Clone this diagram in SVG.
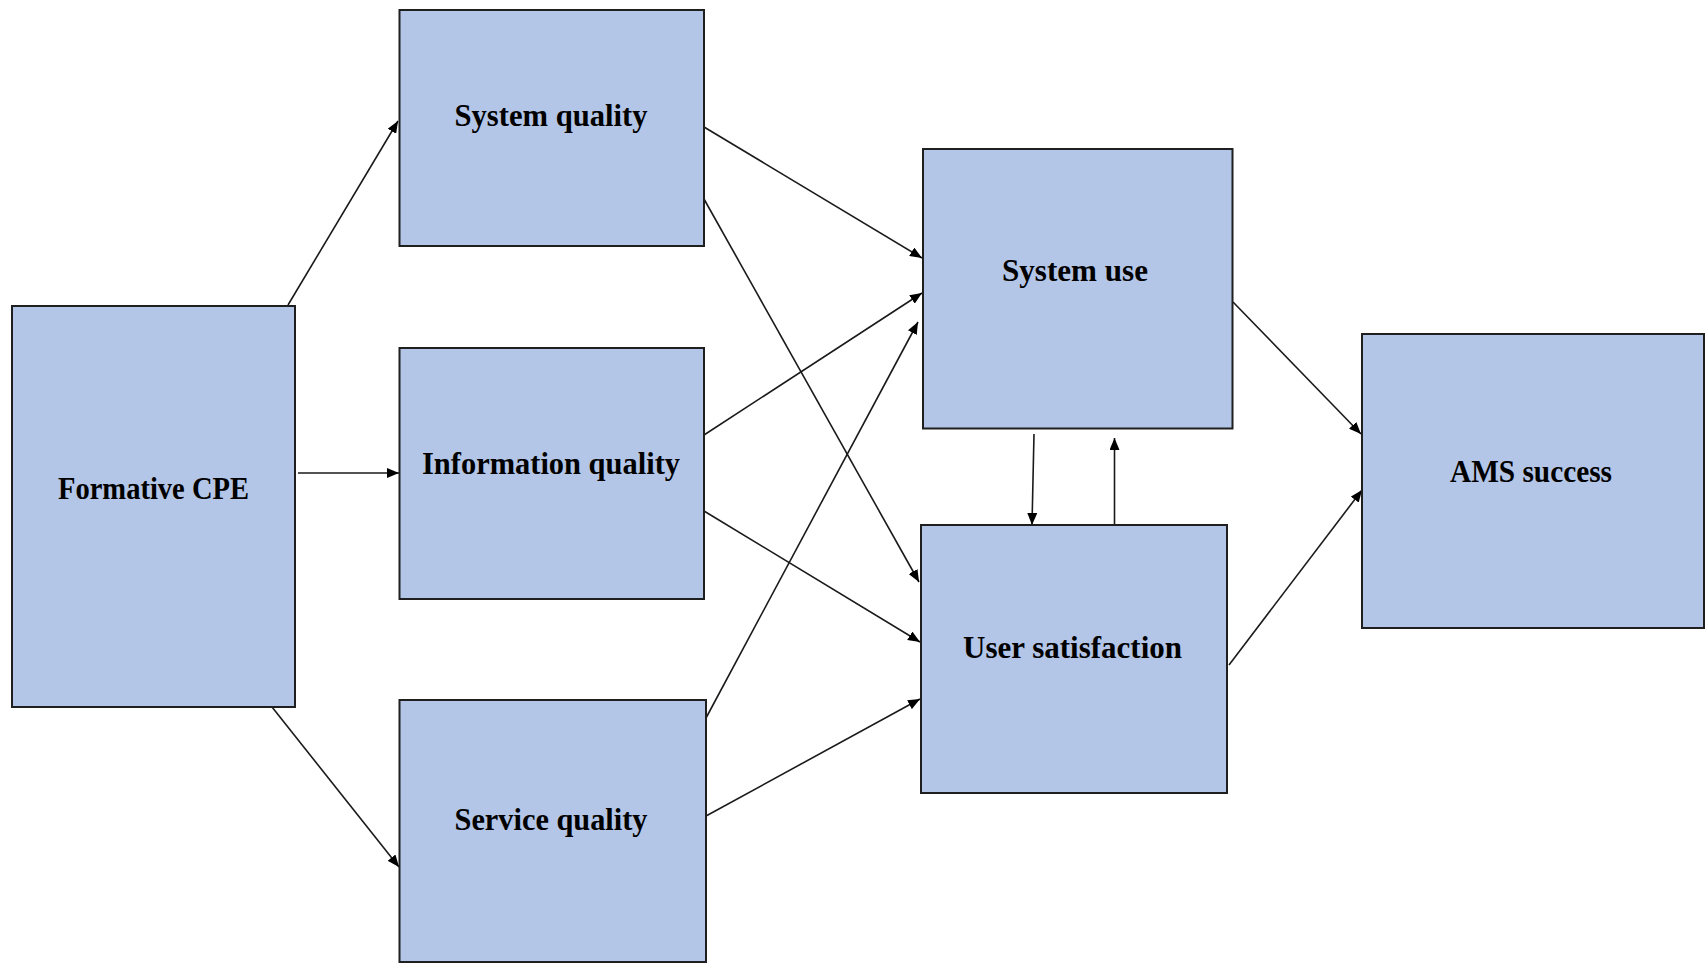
<svg xmlns="http://www.w3.org/2000/svg" width="1705" height="963" viewBox="0 0 1705 963">
<style>
.box{fill:#B4C6E7;stroke:#1f1f1f;stroke-width:2}
.lbl{font-family:"Liberation Serif","Times New Roman",serif;font-weight:bold;font-size:31px;fill:#000;text-anchor:middle}
.c{stroke:#1a1a1a;stroke-width:1.6;fill:none;marker-end:url(#ah)}
</style>
<defs>
<marker id="ah" markerUnits="userSpaceOnUse" markerWidth="12" markerHeight="10" refX="12" refY="5" orient="auto">
<path d="M0,0 L12,5 L0,10 z" fill="#000"/>
</marker>
</defs>
<rect width="1705" height="963" fill="#fff"/>
<g id="connectors">
<line class="c" x1="288" y1="305" x2="398" y2="121"/>
<line class="c" x1="298" y1="473" x2="399" y2="473"/>
<line class="c" x1="272" y1="707" x2="399" y2="867"/>
<line class="c" x1="704" y1="127" x2="922" y2="258"/>
<line class="c" x1="704" y1="199" x2="919" y2="582"/>
<line class="c" x1="704" y1="435" x2="922" y2="293"/>
<line class="c" x1="704" y1="511" x2="920" y2="642"/>
<line class="c" x1="706" y1="718" x2="918" y2="322"/>
<line class="c" x1="706" y1="816" x2="920" y2="699"/>
<line class="c" x1="1034" y1="434" x2="1032" y2="525"/>
<line class="c" x1="1114.5" y1="525" x2="1114.5" y2="438"/>
<line class="c" x1="1233" y1="302" x2="1361" y2="434"/>
<line class="c" x1="1229" y1="665" x2="1362" y2="490"/>
</g>
<g id="formative-cpe">
<rect class="box" x="12" y="306" width="283" height="401"/>
<text class="lbl" x="153.5" y="499" textLength="191" lengthAdjust="spacingAndGlyphs">Formative CPE</text>
</g>
<g id="system-quality">
<rect class="box" x="399.5" y="10" width="304.5" height="236"/>
<text class="lbl" x="551" y="126" textLength="193" lengthAdjust="spacingAndGlyphs">System quality</text>
</g>
<g id="information-quality">
<rect class="box" x="399.5" y="348" width="304.5" height="251"/>
<text class="lbl" x="551" y="474" textLength="258" lengthAdjust="spacingAndGlyphs">Information quality</text>
</g>
<g id="service-quality">
<rect class="box" x="399.5" y="700" width="306.5" height="262"/>
<text class="lbl" x="551" y="830" textLength="193" lengthAdjust="spacingAndGlyphs">Service quality</text>
</g>
<g id="system-use">
<rect class="box" x="923" y="149" width="309.5" height="279.5"/>
<text class="lbl" x="1075" y="281" textLength="146" lengthAdjust="spacingAndGlyphs">System use</text>
</g>
<g id="user-satisfaction">
<rect class="box" x="921" y="525" width="306" height="268"/>
<text class="lbl" x="1072.5" y="658" textLength="219" lengthAdjust="spacingAndGlyphs">User satisfaction</text>
</g>
<g id="ams-success">
<rect class="box" x="1362" y="334" width="342" height="294"/>
<text class="lbl" x="1531" y="482" textLength="162" lengthAdjust="spacingAndGlyphs">AMS success</text>
</g>
</svg>
